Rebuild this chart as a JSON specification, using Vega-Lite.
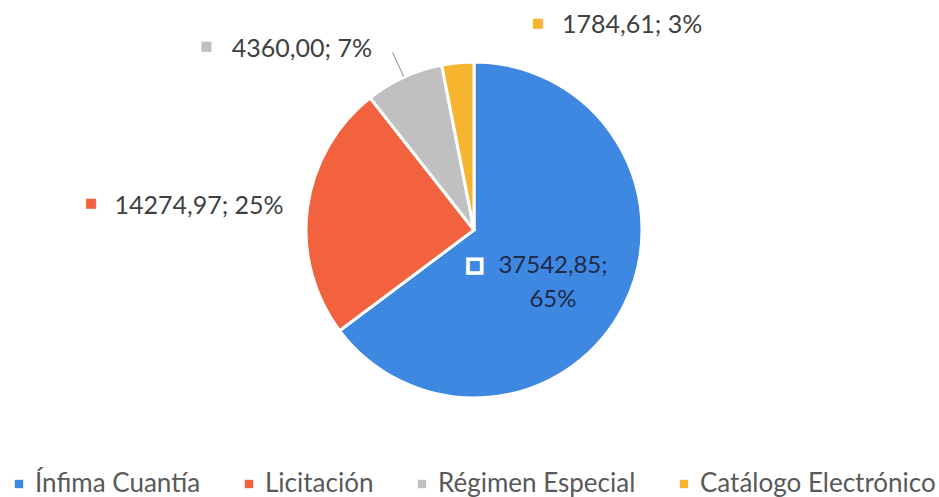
{
  "$schema": "https://vega.github.io/schema/vega-lite/v6.json",
  "width": 930,
  "height": 460,
  "autosize": {"type": "none"},
  "padding": {"left": 9, "top": 0, "right": 0, "bottom": 37},
  "background": "white",
  "config": {"view": {"stroke": null}},
  "data": {
    "values": [
      {"category": "Ínfima Cuantía", "value": 37542.85, "pct": 65},
      {"category": "Licitación", "value": 14274.97, "pct": 25},
      {"category": "Régimen Especial", "value": 4360.00, "pct": 7},
      {"category": "Catálogo Electrónico", "value": 1784.61, "pct": 3}
    ]
  },
  "transform": [
    {"stack": "value", "groupby": [], "sort": [{"field": "value", "order": "descending"}], "as": ["v0", "v1"]},
    {"calculate": "(datum.v0 + datum.v1) / 2", "as": "mid"},
    {"calculate": "replace(format(datum.value, '.2f'), '.', ',') + '; ' + datum.pct + '%'", "as": "label"}
  ],
  "encoding": {
    "theta": {"field": "mid", "type": "quantitative", "scale": {"zero": true, "nice": false}}
  },
  "layer": [
    {
      "mark": {"type": "arc", "radius": 168, "stroke": "white", "strokeWidth": 3},
      "encoding": {
        "theta": {"field": "v1", "type": "quantitative", "scale": {"zero": true, "nice": false}},
        "theta2": {"field": "v0"},
        "color": {
          "field": "category", "type": "nominal",
          "scale": {
            "domain": ["Ínfima Cuantía", "Licitación", "Régimen Especial", "Catálogo Electrónico"],
            "range": ["#3F88E2", "#F2623F", "#C0C0C0", "#F6B42F"]
          },
          "legend": {
            "title": null,
            "orient": "none",
            "legendX": -3,
            "legendY": 471,
            "direction": "horizontal",
            "symbolType": "square",
            "symbolSize": 70,
            "symbolStrokeWidth": 0,
            "labelFont": "Lato",
            "labelFontSize": 26,
            "labelColor": "#595959",
            "labelOffset": 3,
            "columnPadding": 35,
            "padding": 0,
            "labelLimit": 400
          }
        }
      }
    },
    {
      "transform": [{"filter": "datum.category === 'Régimen Especial'"}],
      "mark": {"type": "arc", "radius": 195, "radius2": 169, "stroke": "#A6A6A6", "strokeWidth": 1, "fillOpacity": 0},
      "encoding": {
        "theta": {"field": "mid", "type": "quantitative"},
        "theta2": {"field": "mid"}
      }
    },
    {
      "transform": [{"filter": "datum.category === 'Ínfima Cuantía'"}],
      "mark": {"type": "text", "radius": 95, "dx": -6, "dy": -7, "align": "center", "baseline": "middle", "lineBreak": " ", "lineHeight": 34, "font": "Lato", "fontSize": 24, "fill": "#1E2B48"},
      "encoding": {"text": {"field": "label"}}
    },
    {
      "transform": [{"filter": "datum.category === 'Ínfima Cuantía'"}],
      "mark": {"type": "text", "radius": 95, "dx": -84.4, "dy": -7, "align": "center", "baseline": "middle", "font": "DejaVu Sans", "fontSize": 18, "fill": "#3F88E2", "stroke": "white", "strokeWidth": 3.5, "text": "■"},
      "encoding": {}
    },
    {
      "transform": [{"filter": "datum.category === 'Licitación'"}],
      "mark": {"type": "text", "radius": 192, "dx": 0, "dy": 1.5, "align": "right", "baseline": "middle", "font": "Lato", "fontSize": 25, "fill": "#404040"},
      "encoding": {"text": {"field": "label"}}
    },
    {
      "transform": [{"filter": "datum.category === 'Régimen Especial'"}],
      "mark": {"type": "text", "radius": 207, "dx": -15.8, "dy": 7.2, "align": "right", "baseline": "middle", "font": "Lato", "fontSize": 25, "fill": "#404040"},
      "encoding": {"text": {"field": "label"}}
    },
    {
      "transform": [{"filter": "datum.category === 'Catálogo Electrónico'"}],
      "mark": {"type": "text", "radius": 210, "dx": 108.3, "dy": 4, "align": "left", "baseline": "middle", "font": "Lato", "fontSize": 25, "fill": "#404040"},
      "encoding": {"text": {"field": "label"}}
    },
    {
      "transform": [{"filter": "datum.category === 'Licitación'"}],
      "mark": {"type": "text", "radius": 192, "dx": -192.6, "dy": -2.4, "align": "center", "baseline": "middle", "font": "DejaVu Sans", "fontSize": 13, "text": "■"},
      "encoding": {"color": {"field": "category", "type": "nominal"}}
    },
    {
      "transform": [{"filter": "datum.category === 'Régimen Especial'"}],
      "mark": {"type": "text", "radius": 207, "dx": -181.3, "dy": 4.2, "align": "center", "baseline": "middle", "font": "DejaVu Sans", "fontSize": 13, "text": "■"},
      "encoding": {"color": {"field": "category", "type": "nominal"}}
    },
    {
      "transform": [{"filter": "datum.category === 'Catálogo Electrónico'"}],
      "mark": {"type": "text", "radius": 210, "dx": 84.3, "dy": 2, "align": "center", "baseline": "middle", "font": "DejaVu Sans", "fontSize": 13, "text": "■"},
      "encoding": {"color": {"field": "category", "type": "nominal"}}
    }
  ]
}
